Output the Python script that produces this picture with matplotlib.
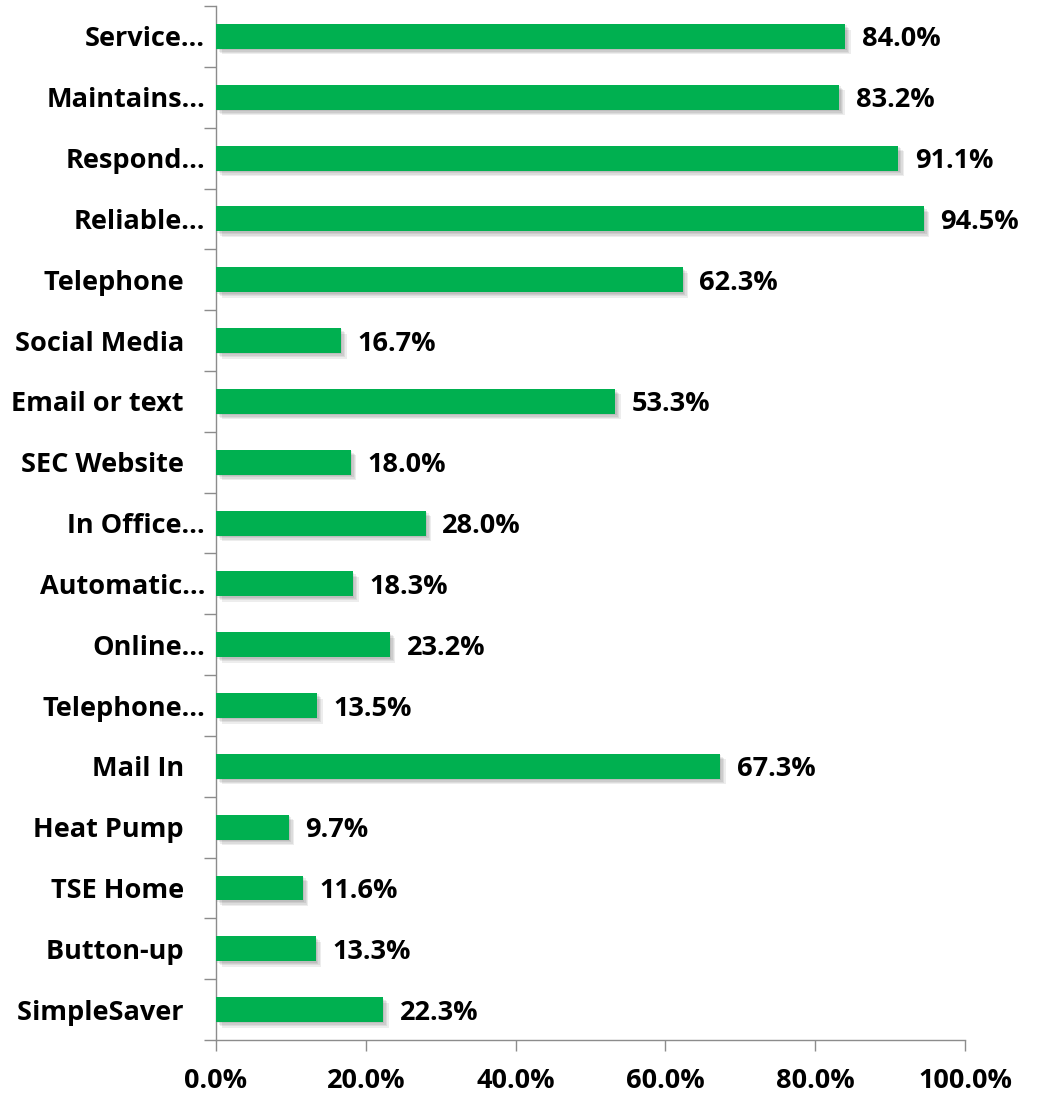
import numpy as np
import matplotlib.pyplot as plt
import matplotlib.patheffects as pe
from matplotlib.ticker import FixedLocator

plt.rcParams['font.family'] = ['Open Sans', 'DejaVu Sans']

categories = ["Service…", "Maintains…", "Respond…", "Reliable…", "Telephone   ",
              "Social Media   ", "Email or text   ", "SEC Website   ", "In Office…",
              "Automatic…", "Online…", "Telephone…", "Mail In   ", "Heat Pump   ",
              "TSE Home   ", "Button-up   ", "SimpleSaver   "]
values = [84.0, 83.2, 91.1, 94.5, 62.3, 16.7, 53.3, 18.0, 28.0,
          18.3, 23.2, 13.5, 67.3, 9.7, 11.6, 13.3, 22.3]
xticks = [0, 20, 40, 60, 80, 100]

GREEN = "#00B050"
AXIS = "#8c8c8c"
FS = 19.5

fig = plt.figure(figsize=(10.41, 10.98), dpi=100)
ax = fig.add_axes([0.2075, 0.0528, 0.7195, 0.9417])

n = len(categories)
y = np.arange(n)[::-1]
bars = ax.barh(y, values, height=0.41, color=GREEN, zorder=3)
# soft drop shadow built from a few faint offset copies
shadow = [pe.SimplePatchShadow(offset=(d, -d), shadow_rgbFace="#000000", alpha=0.07)
          for d in (1, 2, 3, 4)]
for b in bars:
    b.set_path_effects(shadow + [pe.Normal()])

for yi, v in zip(y, values):
    ax.annotate(f"{v:.1f}%", (v, yi), xytext=(12, 0), textcoords="offset points",
                va="center_baseline", ha="left", fontsize=FS, fontweight="bold",
                color="black")

ax.set_xlim(0, 100)
ax.set_ylim(-0.5, n - 0.5)
ax.set_yticks(y)
ax.set_yticklabels(categories, fontsize=FS, fontweight="bold")
ax.yaxis.set_minor_locator(FixedLocator(np.arange(n + 1) - 0.5))
ax.tick_params(axis="y", which="major", length=0, pad=8)
ax.tick_params(axis="y", which="minor", length=9, color=AXIS, width=1)

ax.set_xticks(xticks)
ax.set_xticklabels([f"{t:.1f}%" for t in xticks], fontsize=FS, fontweight="bold")
ax.tick_params(axis="x", length=8, color=AXIS, width=1, pad=12)

for s in ["top", "right"]:
    ax.spines[s].set_visible(False)
for s in ["left", "bottom"]:
    ax.spines[s].set_color(AXIS)
    ax.spines[s].set_linewidth(1)

fig.savefig("out.png", dpi=100, facecolor="white")
